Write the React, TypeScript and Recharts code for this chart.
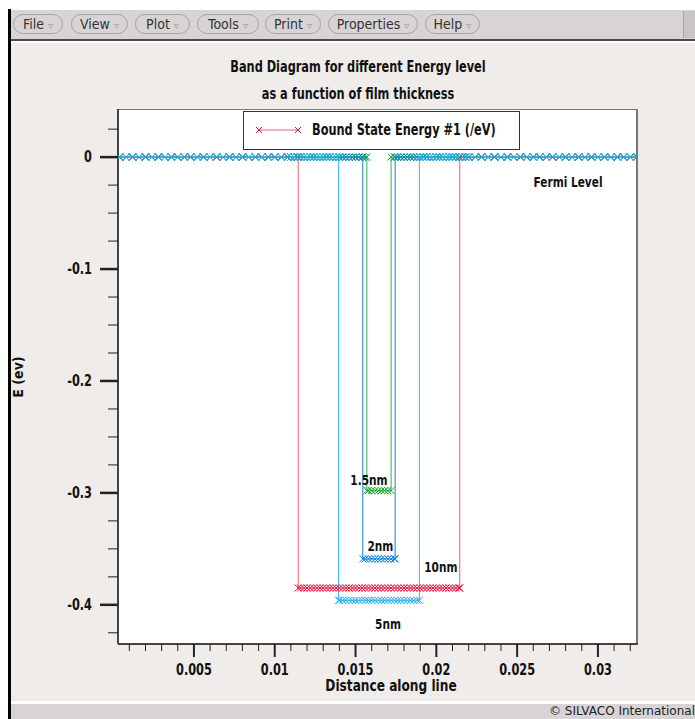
import React from "react";
import { LineChart, Line, XAxis, YAxis, ReferenceDot, Legend } from "recharts";

// quantum wells: edges along the line and bound state energy (eV)
const wellNames = ["10nm", "1.5nm", "2nm", "5nm"];
const wellLeft = [0.01145, 0.0157, 0.01545, 0.01395];
const wellRight = [0.02145, 0.0172, 0.01745, 0.01895];
const boundEnergy = [-0.385, -0.298, -0.359, -0.396];
const lineColors = ["#e8607c", "#36b048", "#1484cc", "#3cb8ee"];
const markColors = ["#e0103a", "#1aa82c", "#0a86d6", "#26b2ee"];

// mesh nodes along the line
const meshX = [
  0.0004, 0.0008, 0.0012, 0.0016, 0.002, 0.0024, 0.0028, 0.0032, 0.0036, 0.004, 0.0044, 0.0048, 0.0052, 0.0056,
  0.006, 0.0064, 0.0068, 0.0072, 0.0076, 0.008, 0.0084, 0.0088, 0.0092, 0.0096, 0.01, 0.0104, 0.0108,
  0.011, 0.0112, 0.0114, 0.0116, 0.0118, 0.012, 0.0122, 0.0124, 0.0126, 0.0128, 0.013, 0.0132, 0.0134, 0.0136,
  0.0138, 0.014, 0.0142, 0.0144, 0.0146, 0.0148, 0.015, 0.0152, 0.0154, 0.0156, 0.0158, 0.016, 0.0162, 0.0164,
  0.0166, 0.0168, 0.017, 0.0172, 0.0174, 0.0176, 0.0178, 0.018, 0.0182, 0.0184, 0.0186, 0.0188, 0.019, 0.0192,
  0.0194, 0.0196, 0.0198, 0.02, 0.0202, 0.0204, 0.0206, 0.0208, 0.021, 0.0212, 0.0214, 0.0216, 0.0218, 0.022,
  0.0224, 0.0228, 0.0232, 0.0236, 0.024, 0.0244, 0.0248, 0.0252, 0.0256, 0.026, 0.0264, 0.0268, 0.0272, 0.0276,
  0.028, 0.0284, 0.0288, 0.0292, 0.0296, 0.03, 0.0304, 0.0308, 0.0312, 0.0316, 0.032, 0.0324,
];

const xMajorTicks = [0.005, 0.01, 0.015, 0.02, 0.025, 0.03];
const xMinorTicks = [
  0.001, 0.002, 0.003, 0.004, 0.006, 0.007, 0.008, 0.009, 0.011, 0.012, 0.013, 0.014, 0.016, 0.017, 0.018, 0.019,
  0.021, 0.022, 0.023, 0.024, 0.026, 0.027, 0.028, 0.029, 0.031, 0.032,
];
const yMajorTicks = [0, -0.1, -0.2, -0.3, -0.4];
const yMinorTicks = [0.025, -0.025, -0.05, -0.075, -0.125, -0.15, -0.175, -0.225, -0.25, -0.275, -0.325, -0.35, -0.375, -0.425];

const noteText = ["Fermi Level", "1.5nm", "2nm", "10nm", "5nm"];
const noteX = [0.02815, 0.01583, 0.01654, 0.02028, 0.01701];
const noteY = [-0.0223, -0.2886, -0.3475, -0.366, -0.4173];

const legendName = "Bound State Energy #1 (/eV)";
const menuItems = ["File", "View", "Plot", "Tools", "Print", "Properties", "Help"];
const menuLeft = [13, 71, 135, 197, 265, 328, 425];
const menuWidth = [50, 57, 55, 62, 56, 90, 55];

const NARROW = '"Liberation Sans Narrow", "DejaVu Sans Condensed", "Liberation Sans", sans-serif';
const SQUEEZE = 0.84;

const series = wellNames.map((name, i) => {
  const l = wellLeft[i];
  const r = wellRight[i];
  const E = boundEnergy[i];
  const pts: { x: number; e: number }[] = [];
  meshX.filter((x) => x < l).forEach((x) => pts.push({ x, e: 0 }));
  pts.push({ x: l, e: 0 }, { x: l, e: E });
  meshX.filter((x) => x > l && x < r).forEach((x) => pts.push({ x, e: E }));
  pts.push({ x: r, e: E }, { x: r, e: 0 });
  meshX.filter((x) => x > r).forEach((x) => pts.push({ x, e: 0 }));
  return { name, data: pts, stroke: lineColors[i], mark: markColors[i] };
});

const crossDot = (color: string) => (props: any) => {
  const { cx, cy, index } = props;
  if (cx == null || cy == null) return <g key={`n-${index}`} />;
  return (
    <path
      key={`d-${index}`}
      d={`M${cx - 3.5},${cy - 3.5}L${cx + 3.5},${cy + 3.5}M${cx - 3.5},${cy + 3.5}L${cx + 3.5},${cy - 3.5}`}
      stroke={color}
      strokeWidth={1}
      fill="none"
    />
  );
};

// bold condensed svg text
const Narrow = ({ x, y, anchor, size, children }: any) => (
  <text
    transform={`translate(${x},${y}) scale(${SQUEEZE},1)`}
    textAnchor={anchor}
    fontFamily={NARROW}
    fontWeight="bold"
    fontSize={size}
    fill="#111"
  >
    {children}
  </text>
);

const XTick = (props: any) => {
  const { x, y, payload } = props;
  const major = xMajorTicks.includes(payload.value);
  return (
    <g>
      <line x1={x} x2={x} y1={y} y2={y + (major ? 13 : 7)} stroke="#222" strokeWidth={major ? 2 : 1} />
      {major && (
        <Narrow x={x} y={y + 31} anchor="middle" size={15}>
          {String(payload.value)}
        </Narrow>
      )}
    </g>
  );
};

const YTick = (props: any) => {
  const { x, y, payload } = props;
  const major = yMajorTicks.includes(payload.value);
  return (
    <g>
      <line x1={x - (major ? 18 : 10)} x2={x} y1={y} y2={y} stroke="#222" strokeWidth={major ? 2.5 : 1} />
      {major && (
        <Narrow x={x - 26} y={y + 5} anchor="end" size={15}>
          {String(payload.value)}
        </Narrow>
      )}
    </g>
  );
};

const NoteLabel = (props: any) => {
  const { viewBox, value } = props;
  const cx = viewBox.x + (viewBox.width || 0) / 2;
  const cy = viewBox.y + (viewBox.height || 0) / 2;
  return (
    <Narrow x={cx} y={cy + 5} anchor="middle" size={14}>
      {value}
    </Narrow>
  );
};

const LegendBox = () => (
  <div
    style={{
      width: 277,
      height: 39,
      boxSizing: "border-box",
      border: "1px solid #333",
      background: "#fff",
      position: "relative",
    }}
  >
    <svg width={60} height={37} style={{ position: "absolute", left: 10, top: 0 }}>
      <line x1={5} y1={18} x2={44} y2={18} stroke={lineColors[0]} strokeWidth={1} />
      <path d="M2,15L8,21M2,21L8,15M41,15L47,21M41,21L47,15" stroke={markColors[0]} strokeWidth={1} fill="none" />
    </svg>
    <span
      style={{
        position: "absolute",
        left: 68,
        top: 9,
        fontFamily: NARROW,
        fontWeight: "bold",
        fontSize: 15,
        color: "#111",
        whiteSpace: "nowrap",
        transform: `scaleX(${SQUEEZE})`,
        transformOrigin: "left center",
      }}
    >
      {legendName}
    </span>
  </div>
);

const titleStyle: React.CSSProperties = {
  position: "absolute",
  left: 0,
  width: 716,
  textAlign: "center",
  fontFamily: NARROW,
  fontWeight: "bold",
  fontSize: 15,
  color: "#111",
  transform: `scaleX(${SQUEEZE})`,
  transformOrigin: "358px 0",
};

export default function App() {
  return (
    <div style={{ position: "absolute", left: 0, top: 0, width: 695, height: 719, background: "#fff", overflow: "hidden" }}>
      {/* window frame */}
      <div style={{ position: "absolute", left: 8, top: 9, width: 3, height: 710, background: "#000" }} />
      <div style={{ position: "absolute", left: 11, top: 10, width: 684, height: 29, background: "#d8d4d5" }} />
      <div style={{ position: "absolute", left: 11, top: 39, width: 684, height: 2, background: "#4a4a4a" }} />
      <div style={{ position: "absolute", left: 11, top: 43, width: 684, height: 658, background: "#efecea" }} />
      <div style={{ position: "absolute", left: 11, top: 704, width: 684, height: 15, background: "#d8d4d5" }} />
      <div style={{ position: "absolute", left: 683, top: 11, width: 12, height: 27, background: "#c9c5c6", borderLeft: "1px solid #aaa" }} />
      {menuItems.map((m, i) => (
        <div
          key={m}
          style={{
            position: "absolute",
            left: menuLeft[i],
            top: 14,
            width: menuWidth[i],
            height: 20,
            boxSizing: "border-box",
            border: "1px solid #a8a4a5",
            borderRadius: 10,
            fontFamily: NARROW,
            fontSize: 14,
            color: "#333",
            textAlign: "center",
            lineHeight: "18px",
            whiteSpace: "nowrap",
          }}
        >
          {m} <span style={{ color: "#999", fontFamily: "DejaVu Sans", fontSize: 10 }}>▿</span>
        </div>
      ))}
      <div
        style={{
          position: "absolute",
          right: 0,
          top: 704,
          fontFamily: "DejaVu Sans, sans-serif",
          fontSize: 12,
          color: "#222",
          lineHeight: "15px",
          whiteSpace: "nowrap",
        }}
      >
        © SILVACO International
      </div>

      {/* titles */}
      <div style={{ ...titleStyle, top: 58 }}>Band Diagram for different Energy level</div>
      <div style={{ ...titleStyle, top: 85 }}>as a function of film thickness</div>
      <div style={{ ...titleStyle, left: 134, width: 514, top: 677, fontSize: 15, transformOrigin: "257px 0", transform: "scaleX(0.9)" }}>
        Distance along line
      </div>
      <div
        style={{
          position: "absolute",
          left: 18,
          top: 377,
          transform: "translate(-50%, -50%) rotate(-90deg)",
          fontFamily: NARROW,
          fontWeight: "bold",
          fontSize: 14,
          color: "#111",
          whiteSpace: "nowrap",
        }}
      >
        E (ev)
      </div>

      {/* plot box */}
      <div style={{ position: "absolute", left: 118, top: 109, width: 520, height: 535, boxSizing: "border-box", background: "#fff", border: "1px solid #777", borderRightWidth: 2 }} />

      <div style={{ position: "absolute", left: 0, top: 0 }}>
        <LineChart width={695} height={719} margin={{ top: 109, right: 57, left: 38, bottom: 35 }}>
          <XAxis
            type="number"
            dataKey="x"
            domain={[0.0003, 0.03248]}
            allowDataOverflow
            ticks={[...xMinorTicks, ...xMajorTicks].sort((a, b) => a - b)}
            interval={0}
            tickSize={0}
            tickMargin={0}
            tickLine={false}
            tick={<XTick />}
            axisLine={{ stroke: "#444", strokeWidth: 2 }}
            height={40}
          />
          <YAxis
            type="number"
            dataKey="e"
            domain={[-0.435, 0.043]}
            allowDataOverflow
            ticks={[...yMinorTicks, ...yMajorTicks].sort((a, b) => a - b)}
            interval={0}
            tickSize={0}
            tickMargin={0}
            tickLine={false}
            tick={<YTick />}
            axisLine={{ stroke: "#444", strokeWidth: 2 }}
            width={80}
          />
          <Legend
            layout="vertical"
            align="center"
            verticalAlign="middle"
            wrapperStyle={{ left: 243, top: 111, width: 277, height: 39 }}
            content={() => <LegendBox />}
          />
          {series.map((s) => (
            <Line
              key={s.name}
              name={s.name}
              data={s.data}
              dataKey="e"
              type="linear"
              stroke={s.stroke}
              strokeWidth={1}
              dot={crossDot(s.mark)}
              activeDot={false}
              legendType="none"
              isAnimationActive={false}
            />
          ))}
          {noteText.map((t, i) => (
            <ReferenceDot
              key={t}
              x={noteX[i]}
              y={noteY[i]}
              r={0}
              fill="none"
              stroke="none"
              label={<NoteLabel value={t} />}
            />
          ))}
        </LineChart>
      </div>
    </div>
  );
}
